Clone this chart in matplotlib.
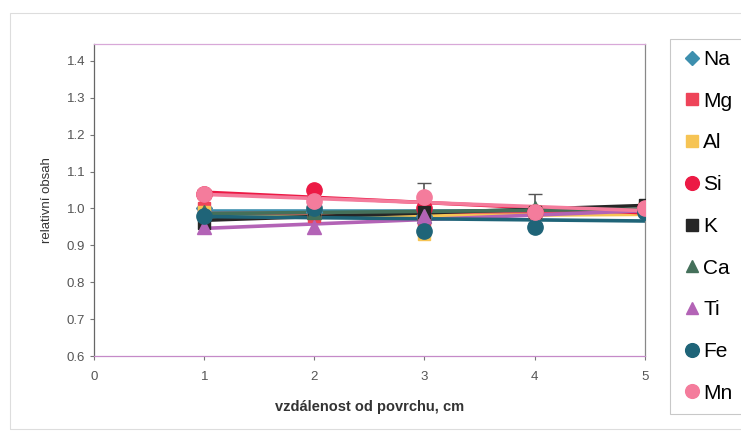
import numpy as np
import matplotlib as mpl
import matplotlib.pyplot as plt
from matplotlib.patches import Rectangle

# ---------------------------------------------------------------------------
# DATA
# ---------------------------------------------------------------------------
depth = [1, 2, 3, 4, 5]

elements = ["Na", "Mg", "Al", "Si", "K", "Ca", "Ti", "Fe", "Mn"]

na = [1.00, 0.99, 0.98, 0.99, 1.00]
mg = [1.00, 0.98, 0.97, 0.99, 1.00]
al = [0.99, 0.99, 0.93, 0.99, 1.00]
si = [1.04, 1.05, 1.00, 0.99, 1.00]
k  = [0.96, 0.99, 0.99, 0.99, 1.01]
ca = [0.99, 0.99, 0.98, 1.00, 1.00]
ti = [0.95, 0.95, 0.98, 0.97, 1.00]
fe = [0.98, 1.00, 0.94, 0.95, 0.99]
mn = [1.04, 1.02, 1.03, 0.99, 1.00]

# error bars (mostly hidden behind markers)
err_mn = [0.01, 0.01, 0.04, 0.01, 0.01]
err_ca = [0.01, 0.01, 0.01, 0.04, 0.01]

values = [na, mg, al, si, k, ca, ti, fe, mn]
errors = {"Mn": err_mn, "Ca": err_ca}

# ---------------------------------------------------------------------------
# STYLE
# ---------------------------------------------------------------------------
mpl.rcParams.update({
    "font.family": ["Liberation Sans", "DejaVu Sans"],
    "xtick.color": "#555555",
    "ytick.color": "#555555",
})

colors  = ["#3d8fae", "#ee4459", "#f6c454", "#ec1a45", "#262626",
           "#44705a", "#b363b6", "#1f6478", "#f47c9c"]
markers = ["D", "s", "s", "o", "s", "^", "^", "o", "o"]
msizes  = [8, 9, 9, 11, 9, 10, 10, 11, 11]

fig = plt.figure(figsize=(7.41, 4.38), dpi=100)
ax = fig.add_axes([0.127, 0.187, 0.743, 0.713])

x = np.array(depth)
for name, y, c, m, ms in zip(elements, values, colors, markers, msizes):
    y = np.array(y)
    # linear trend line, as in the original spreadsheet chart
    p = np.polyfit(x, y, 1)
    ax.plot(x, np.polyval(p, x), color=c, lw=2.6, zorder=2)
    if name in errors:
        ax.errorbar(x, y, yerr=errors[name], fmt="none", ecolor="#555555",
                    elinewidth=1.2, capsize=5, zorder=3)
    ax.plot(x, y, linestyle="none", marker=m, ms=ms, color=c,
            markeredgecolor=c, zorder=4, label=name)

# ---------------------------------------------------------------------------
# AXES
# ---------------------------------------------------------------------------
ax.set_xlim(0, 5)
ax.set_ylim(0.6, 1.446)
ax.set_xticks(range(0, 6))
ax.set_yticks(np.arange(0.6, 1.41, 0.1))
ax.yaxis.set_major_formatter(mpl.ticker.FormatStrFormatter("%.1f"))
ax.tick_params(axis="both", labelsize=9.5, length=3, width=0.8,
               color="#777777")
ax.tick_params(axis="x", pad=8)

ax.spines["left"].set_color("#666666")
ax.spines["right"].set_color("#888888")
ax.spines["bottom"].set_color("#c58ac8")
ax.spines["top"].set_color("#d8a8d8")
for s in ax.spines.values():
    s.set_linewidth(0.9)

ax.set_xlabel("vzdálenost od povrchu, cm", fontsize=10.5, fontweight="bold",
              color="#333333", labelpad=12)
ax.set_ylabel("relativní obsah", fontsize=9.5, color="#333333", labelpad=10)

leg = fig.legend(loc="upper left", bbox_to_anchor=(0.904, 0.912),
                 fontsize=15, frameon=True, edgecolor="#bbbbbb",
                 fancybox=False, labelspacing=1.09, handletextpad=0.05,
                 handlelength=1.0, borderpad=0.55, borderaxespad=0,
                 markerscale=0.9)
leg.get_frame().set_linewidth(0.8)

# faint outer chart border
fig.patches.append(Rectangle((0.013, 0.02), 1.2, 0.95,
                             transform=fig.transFigure, fill=False,
                             edgecolor="#dddddd", lw=0.8))

fig.savefig("out.png", dpi=100)
